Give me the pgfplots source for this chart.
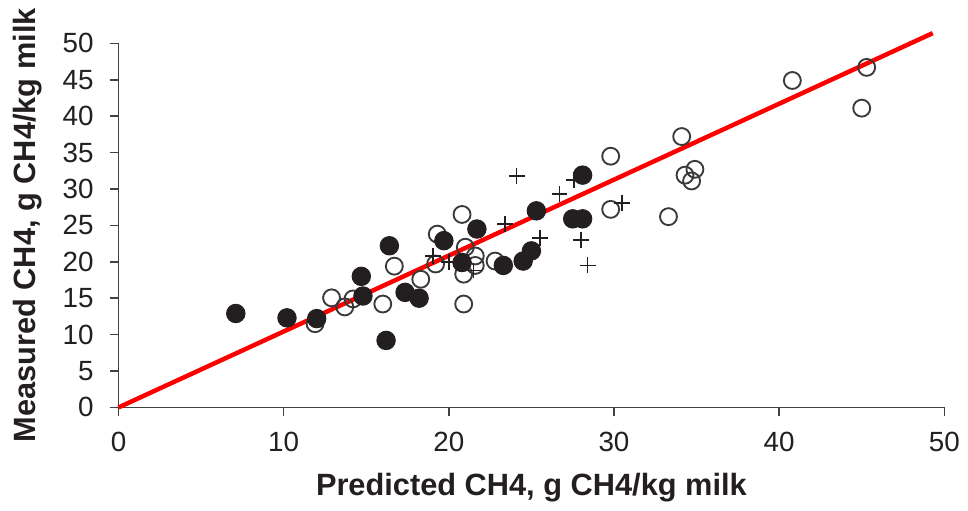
\documentclass[border=0pt]{standalone}
\usepackage{fontspec}
\setmainfont{Liberation Sans}
\usepackage{pgfplots}
\pgfplotsset{compat=1.18}
\definecolor{ink}{HTML}{231F20}
\definecolor{ring}{HTML}{3A3A3A}

\begin{document}
\begin{tikzpicture}
\begin{axis}[
  scale only axis,
  width=331.6bp, height=146.2bp,
  xmin=0, xmax=50, ymin=0, ymax=50,
  axis lines=left,
  axis line style={-, ink!85, line width=0.6bp},
  xtick={0,10,...,50}, ytick={0,5,...,50},
  tick align=outside,
  major tick length=3.5bp,
  tick style={ink!85, line width=0.6bp},
  tick label style={font=\fontsize{11.2}{13}\selectfont, text=ink},
  xticklabel style={yshift=-3bp},
  yticklabel style={xshift=-3bp},
  /pgf/number format/assume math mode=true,
  xlabel={Predicted CH4, g CH4/kg milk},
  ylabel={Measured CH4, g CH4/kg milk},
  label style={font=\bfseries\fontsize{12.4}{14}\selectfont, text=ink},
  xlabel style={at={([yshift=-32.4bp]axis description cs:0.5,0)}, anchor=center},
  ylabel style={at={([xshift=-36.4bp]axis description cs:0,0.5)}, anchor=center},
  clip=false,
]
% open circles
\addplot[only marks, mark=o, mark size=3.4bp, mark options={draw=ring, line width=0.75bp}] coordinates {
  (11.9,11.5) (12.9,15.05) (13.7,13.8) (14.2,14.9) (16.0,14.2) (16.7,19.4)
  (18.3,17.6) (19.3,23.8) (19.2,19.7) (20.8,26.5) (21.0,22.0) (21.6,20.8)
  (22.8,20.1) (20.9,18.3) (20.9,14.2) (21.6,19.5) (29.8,34.5) (29.8,27.2)
  (33.3,26.2) (34.1,37.2) (34.9,32.7) (34.3,31.9) (34.7,31.1) (40.8,44.9)
  (45.3,46.7) (45.0,41.1)
};
% filled circles
\addplot[only marks, mark=*, mark size=3.7bp, mark options={draw=ink, fill=ink}] coordinates {
  (7.1,12.9) (10.2,12.3) (12.0,12.2) (14.7,18.0) (14.8,15.3) (16.4,22.2)
  (16.2,9.2) (17.35,15.8) (18.2,15.0) (19.7,22.9) (21.7,24.5) (20.8,19.9)
  (23.3,19.5) (24.5,20.1) (25.0,21.5) (25.3,27.0) (27.5,25.9) (28.1,25.9)
  (28.1,31.9)
};
% plus signs
\addplot[only marks, mark=+, mark size=3.2bp, mark options={draw=ink, line width=0.7bp}] coordinates {
  (19.06,20.8) (20.0,20.0) (21.5,18.8) (23.4,25.2) (24.1,31.8) (25.5,23.3)
  (26.7,29.3) (27.6,31.2) (28.0,23.0) (28.4,19.5) (30.5,28.1)
};
% fitted line
\addplot[red, line width=1.8bp] coordinates {(0,0) (49.3,51.4)};
\coordinate (sw) at (rel axis cs:0,0);
\coordinate (ne) at (rel axis cs:1,1);
\end{axis}
\path ([xshift=-47.6bp,yshift=-38.4bp]sw) rectangle ([xshift=7bp,yshift=17.4bp]ne);
\end{tikzpicture}
\end{document}
